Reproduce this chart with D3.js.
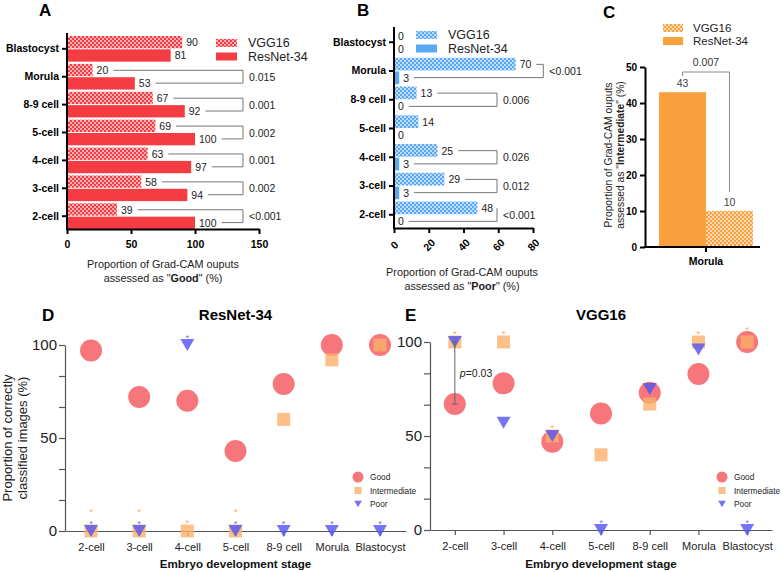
<!DOCTYPE html>
<html>
<head>
<meta charset="utf-8">
<script src="https://cdn.jsdelivr.net/npm/d3@7"></script>
<style>
body { margin: 0; background: #fff; }
svg { font-family: "Liberation Sans", Arial, Helvetica, sans-serif; }
</style>
</head>
<body>
<svg id="chart" width="782" height="572"></svg>
<script>
// ---- data ----
var barStages = ["Blastocyst", "Morula", "8-9 cell", "5-cell", "4-cell", "3-cell", "2-cell"];
var goodVGG = [90, 20, 67, 69, 63, 58, 39];
var goodRes = [81, 53, 92, 100, 97, 94, 100];
var goodP = ["", "0.015", "0.001", "0.002", "0.001", "0.002", "<0.001"];
var poorVGG = [0, 70, 13, 14, 25, 29, 48];
var poorRes = [0, 3, 0, 0, 3, 3, 0];
var poorP = ["", "<0.001", "0.006", "", "0.026", "0.012", "<0.001"];
var interStage = ["Morula"];
var interRes = [43];
var interVGG = [10];
var interP = "0.007";

var stages = ["2-cell", "3-cell", "4-cell", "5-cell", "8-9 cell", "Morula", "Blastocyst"];
var resGood = [97, 72, 70, 43, 79, 100, 100];
var resInter = [0, 0, 0, 0, 60, 92, 100];
var resPoor = [0, 0, 100, 0, 0, 0, 0];
var resInterStar = [1, 1, 1, 1, 0, 0, 0];
var resPoorStar = [1, 1, 1, 1, 1, 1, 1];
var vggGood = [67, 78, 47, 62, 73, 83, 100];
var vggInter = [100, 100, 50, 40, 67, 100, 100];
var vggPoor = [100, 57, 50, 0, 75, 96, 0];
var vggInterStar = [1, 1, 1, 0, 0, 1, 1];
var vggPoorStar = [0, 0, 0, 1, 0, 0, 1];
var classes = ["Good", "Intermediate", "Poor"];
var models = ["VGG16", "ResNet-34"];

var RED = "#f43c42", BLUE = "#5aa8f4", ORANGE = "#f9a13e";

var svg = d3.select("#chart");
svg.append("rect").attr("width", 782).attr("height", 572).attr("fill", "#fff");
var defs = svg.append("defs");

function checker(id, color) {
    var p = defs.append("pattern")
        .attr("id", id)
        .attr("patternUnits", "userSpaceOnUse")
        .attr("width", 4)
        .attr("height", 4);
    p.append("rect").attr("width", 4).attr("height", 4).attr("fill", color);
    p.append("rect").attr("width", 2).attr("height", 2).attr("fill", "#fff").attr("opacity", 0.6);
    p.append("rect").attr("x", 2).attr("y", 2).attr("width", 2).attr("height", 2).attr("fill", "#fff").attr("opacity", 0.6);
}
checker("chkRed", RED);
checker("chkBlue", BLUE);
checker("chkOrange", ORANGE);

function panelLetter(t, x, y) {
    svg.append("text").attr("x", x).attr("y", y)
        .attr("font-size", 17).attr("font-weight", "bold").text(t);
}

// ---- horizontal bar panels (A, B) ----
function barPanel(c) {
    var g = svg.append("g");
    var x = d3.scaleLinear().domain([0, c.max]).range([c.left, c.right]);
    var y = d3.scaleBand().domain(barStages).range([c.top, c.bottom]).paddingInner(0.08);
    var h = y.bandwidth() / 2;

    var rows = barStages.map(function(s, i) {
        return { stage: s, vgg: c.vgg[i], res: c.res[i], p: c.p[i] };
    });

    var row = g.selectAll(".row").data(rows).enter().append("g");

    row.append("rect")
        .attr("x", x(0))
        .attr("y", function(d) { return y(d.stage); })
        .attr("width", function(d) { return x(d.vgg) - x(0); })
        .attr("height", h - 0.5)
        .attr("fill", "url(#" + c.pattern + ")");

    row.append("rect")
        .attr("x", x(0))
        .attr("y", function(d) { return y(d.stage) + h + 0.5; })
        .attr("width", function(d) { return x(d.res) - x(0); })
        .attr("height", h - 0.5)
        .attr("fill", c.color);

    row.each(function(d) {
        var r = d3.select(this);
        var yt = y(d.stage) + h / 2, yb = y(d.stage) + h * 1.5;
        var t1 = r.append("text").attr("x", x(d.vgg) + 4).attr("y", yt)
            .attr("dominant-baseline", "central").attr("font-size", 10.5).attr("fill", "#222")
            .text(d.vgg);
        var t2 = r.append("text").attr("x", x(d.res) + 4).attr("y", yb)
            .attr("dominant-baseline", "central").attr("font-size", 10.5).attr("fill", "#222")
            .text(d.res);
        if (!d.p) return;
        var e1 = x(d.vgg) + 4 + t1.node().getComputedTextLength();
        var e2 = x(d.res) + 4 + t2.node().getComputedTextLength();
        var bx = e1 > c.bracketX + 10 ? e1 + 12 : c.bracketX;
        r.append("path")
            .attr("d", "M" + Math.min(e1 + 5, bx) + "," + yt + "H" + bx + "V" + yb + "H" + (e2 + 5))
            .attr("fill", "none").attr("stroke", "#777").attr("stroke-width", 1);
        r.append("text").attr("x", bx + 6).attr("y", (yt + yb) / 2)
            .attr("dominant-baseline", "central").attr("font-size", 10.5).attr("fill", "#222")
            .text(d.p);
    });

    // y axis
    var ya = g.append("g").attr("transform", "translate(" + x(0) + ",0)")
        .call(d3.axisLeft(y).tickSize(5).tickSizeOuter(0).tickPadding(3));
    ya.select(".domain").remove();
    ya.selectAll("line").attr("stroke", "#000").attr("stroke-width", 2);
    ya.selectAll("text").attr("font-size", 10.5).attr("font-weight", "bold").attr("fill", "#000")
        .attr("font-family", "Liberation Sans, Arial, sans-serif");
    g.append("line").attr("x1", x(0)).attr("x2", x(0)).attr("y1", c.axisTop).attr("y2", c.bottom + 1)
        .attr("stroke", "#000").attr("stroke-width", 2);

    // x axis
    var xa = g.append("g").attr("transform", "translate(0," + c.bottom + ")")
        .call(d3.axisBottom(x).tickValues(c.ticks).tickSize(5).tickSizeOuter(0));
    xa.select(".domain").attr("stroke", "#000").attr("stroke-width", 2);
    xa.selectAll("line").attr("stroke", "#000").attr("stroke-width", 2);
    xa.selectAll("text").attr("font-size", 10.5).attr("font-weight", "bold").attr("fill", "#000")
        .attr("font-family", "Liberation Sans, Arial, sans-serif");
    if (c.rotate) {
        xa.selectAll("text")
            .attr("y", 0).attr("dy", "0.35em")
            .attr("text-anchor", "middle")
            .attr("transform", "translate(0,17) rotate(-45)");
    } else {
        xa.selectAll("text").attr("y", 12);
    }

    // axis title
    var tt = g.append("text").attr("x", c.titleX).attr("y", c.titleY)
        .attr("text-anchor", "middle").attr("font-size", 10.8).attr("fill", "#222");
    tt.append("tspan").attr("x", c.titleX).text("Proportion of Grad-CAM ouputs");
    var l2 = tt.append("tspan").attr("x", c.titleX).attr("dy", 14);
    l2.append("tspan").text("assessed as \"");
    l2.append("tspan").attr("font-weight", "bold").text(c.word);
    l2.append("tspan").text("\" (%)");

    // legend
    models.forEach(function(m, i) {
        g.append("rect").attr("x", c.legX).attr("y", c.legY + i * 13.5 - 4)
            .attr("width", 21).attr("height", 8)
            .attr("fill", i === 0 ? "url(#" + c.pattern + ")" : c.color);
        g.append("text").attr("x", c.legX + 32).attr("y", c.legY + i * 13.5)
            .attr("dominant-baseline", "central").attr("font-size", 12.5).attr("fill", "#222").text(m);
    });
}

barPanel({
    vgg: goodVGG, res: goodRes, p: goodP, max: 150, ticks: [0, 50, 100, 150],
    left: 67, right: 259, top: 36, bottom: 229, axisTop: 33,
    color: RED, pattern: "chkRed", bracketX: 243,
    titleX: 163, titleY: 268, word: "Good", legX: 216, legY: 43, rotate: false
});
barPanel({
    vgg: poorVGG, res: poorRes, p: poorP, max: 80, ticks: [0, 20, 40, 60, 80],
    left: 394, right: 533, top: 29, bottom: 228, axisTop: 27,
    color: BLUE, pattern: "chkBlue", bracketX: 497,
    titleX: 462, titleY: 276, word: "Poor", legX: 416, legY: 35, rotate: true
});

// ---- panel C ----
(function() {
    var g = svg.append("g");
    var x0 = d3.scaleBand().domain(interStage).range([645, 767]).padding(0.13);
    var x1 = d3.scaleBand().domain(["ResNet-34", "VGG16"]).range([0, x0.bandwidth()]);
    var y = d3.scaleLinear().domain([0, 50]).range([247, 67]);
    var bars = [
        { m: "ResNet-34", v: interRes[0], fill: ORANGE },
        { m: "VGG16", v: interVGG[0], fill: "url(#chkOrange)" }
    ];
    g.selectAll(".cbar").data(bars).enter().append("rect")
        .attr("x", function(d) { return x0("Morula") + x1(d.m); })
        .attr("y", function(d) { return y(d.v); })
        .attr("width", x1.bandwidth())
        .attr("height", function(d) { return y(0) - y(d.v); })
        .attr("fill", function(d) { return d.fill; });
    g.selectAll(".clab").data(bars).enter().append("text")
        .attr("x", function(d) { return x0("Morula") + x1(d.m) + x1.bandwidth() / 2; })
        .attr("y", function(d) { return y(d.v) - 5; })
        .attr("text-anchor", "middle").attr("font-size", 10.5).attr("fill", "#444")
        .text(function(d) { return d.v; });
    var cx1 = x0("Morula") + x1("ResNet-34") + x1.bandwidth() / 2;
    var cx2 = x0("Morula") + x1("VGG16") + x1.bandwidth() / 2;
    g.append("path")
        .attr("d", "M" + cx1 + "," + (y(interRes[0]) - 16) + "V" + (y(50) + 5) + "H" + cx2 + "V" + (y(interVGG[0]) - 19))
        .attr("fill", "none").attr("stroke", "#888").attr("stroke-width", 1);
    g.append("text").attr("x", (cx1 + cx2) / 2).attr("y", y(50) - 1)
        .attr("text-anchor", "middle").attr("font-size", 10.5).attr("fill", "#333").text(interP);

    var ya = g.append("g").attr("transform", "translate(645,0)")
        .call(d3.axisLeft(y).ticks(5).tickSize(5).tickSizeOuter(0));
    ya.select(".domain").attr("stroke", "#000").attr("stroke-width", 2);
    ya.selectAll("line").attr("stroke", "#000").attr("stroke-width", 2);
    ya.selectAll("text").attr("font-size", 10).attr("font-weight", "bold").attr("fill", "#000")
        .attr("font-family", "Liberation Sans, Arial, sans-serif");
    var xa = g.append("g").attr("transform", "translate(0,247)")
        .call(d3.axisBottom(x0).tickSize(5).tickSizeOuter(0));
    xa.select(".domain").attr("stroke", "#000").attr("stroke-width", 2).attr("d", "M644,0H760");
    xa.selectAll("line").attr("stroke", "#000").attr("stroke-width", 2);
    xa.selectAll("text").attr("font-size", 10.5).attr("font-weight", "bold").attr("fill", "#000")
        .attr("y", 11).attr("font-family", "Liberation Sans, Arial, sans-serif");

    var tt = g.append("text").attr("transform", "translate(612,155) rotate(-90)")
        .attr("text-anchor", "middle").attr("font-size", 10.3).attr("fill", "#222");
    tt.append("tspan").attr("x", 0).text("Proportion of Grad-CAM ouputs");
    var l2 = tt.append("tspan").attr("x", 0).attr("dy", 11.5);
    l2.append("tspan").text("assessed as \"");
    l2.append("tspan").attr("font-weight", "bold").text("Intermediate");
    l2.append("tspan").text("\" (%)");

    models.forEach(function(m, i) {
        g.append("rect").attr("x", 663).attr("y", 28 + i * 13 - 4)
            .attr("width", 20).attr("height", 8)
            .attr("fill", i === 0 ? "url(#chkOrange)" : ORANGE);
        g.append("text").attr("x", 693).attr("y", 28 + i * 13)
            .attr("dominant-baseline", "central").attr("font-size", 11.5).attr("fill", "#222").text(m);
    });
})();

// ---- scatter panels (D, E) ----
var MK = {
    Good: { fill: "#f4545a", op: 0.8 },
    Intermediate: { fill: "#fbb06a", op: 0.8 },
    Poor: { fill: "#5656f2", op: 0.82 }
};

function marker(g, type, cx, cy, s) {
    var k = s || 1;
    if (type === "Good") {
        g.append("circle").attr("cx", cx).attr("cy", cy).attr("r", 11 * k)
            .attr("fill", MK.Good.fill).attr("fill-opacity", MK.Good.op);
    } else if (type === "Intermediate") {
        g.append("rect").attr("x", cx - 6.5 * k).attr("y", cy - 6.5 * k)
            .attr("width", 13 * k).attr("height", 13 * k)
            .attr("fill", MK.Intermediate.fill).attr("fill-opacity", MK.Intermediate.op);
    } else {
        g.append("path")
            .attr("d", "M" + (cx - 7 * k) + "," + (cy - 6 * k) + "L" + (cx + 7 * k) + "," + (cy - 6 * k) + "L" + cx + "," + (cy + 6 * k) + "Z")
            .attr("fill", MK.Poor.fill).attr("fill-opacity", MK.Poor.op);
    }
}

// asterisk, vertically centred on cy
function star(g, cx, cy, color) {
    g.append("text").attr("x", cx).attr("y", cy + 5.5).attr("text-anchor", "middle")
        .attr("font-size", 9.5).attr("fill", color).text("*");
}

function scatterPanel(c) {
    var g = svg.append("g");
    var x = d3.scalePoint().domain(stages).range([c.left, c.right]).padding(c.pad);
    var y = d3.scaleLinear().domain([0, 100]).range([c.bottom, c.top]);

    var ya = g.append("g").attr("transform", "translate(" + c.left + ",0)")
        .call(d3.axisLeft(y).tickValues(d3.range(7).map(function(i) { return i * 50 / 3; }))
            .tickFormat(function(d, i) { return i % 3 === 0 ? Math.round(d) : ""; })
            .tickSize(6).tickSizeOuter(0).tickPadding(2));
    ya.select(".domain").attr("stroke", "#555").attr("stroke-width", 1.2);
    ya.selectAll("line").attr("stroke", "#555").attr("stroke-width", 1.2);
    ya.selectAll("text").attr("font-size", 15).attr("fill", "#222")
        .attr("font-family", "Liberation Sans, Arial, sans-serif");

    var xa = g.append("g").attr("transform", "translate(0," + c.bottom + ")")
        .call(d3.axisBottom(x).tickSize(5).tickSizeOuter(0).tickPadding(7));
    xa.select(".domain").attr("stroke", "#555").attr("stroke-width", 1.2);
    xa.selectAll("line").attr("stroke", "#555").attr("stroke-width", 1.2);
    xa.selectAll("text").attr("font-size", 11).attr("fill", "#222")
        .attr("font-family", "Liberation Sans, Arial, sans-serif");

    var m = g.append("g");
    stages.forEach(function(s, i) { marker(m, "Good", x(s), y(c.good[i])); });
    stages.forEach(function(s, i) { marker(m, "Intermediate", x(s), y(c.inter[i])); });
    stages.forEach(function(s, i) { marker(m, "Poor", x(s), y(c.poor[i])); });

    stages.forEach(function(s, i) {
        if (c.poorStar[i]) star(m, x(s), y(c.poor[i]) - 10, "#7b78f5");
        if (c.interStar[i]) {
            var off = (c.poorStar[i] && c.poor[i] === c.inter[i]) ? 21.5 : 11;
            if (c.good[i] === c.inter[i]) off = 15;
            star(m, x(s), y(c.inter[i]) - off, "#f7b05c");
        }
    });

    if (c.pval) {
        var px = x(stages[0]);
        m.append("path")
            .attr("d", "M" + (px - 3) + "," + y(c.good[0]) + "H" + (px + 3) + "M" + px + "," + y(c.good[0]) + "V" + y(c.poor[0]) + "M" + (px - 3) + "," + y(c.poor[0]) + "H" + (px + 3))
            .attr("stroke", "#666").attr("stroke-width", 1).attr("fill", "none");
        var pt = m.append("text").attr("x", px + 5).attr("y", 377).attr("font-size", 10.5).attr("fill", "#222");
        pt.append("tspan").attr("font-style", "italic").text("p");
        pt.append("tspan").text(c.pval);
    }

    // legend
    classes.forEach(function(k, i) {
        var ly = 477 + i * 13.5;
        marker(g, k, c.legX, ly, k === "Good" ? 0.5 : 0.55);
        g.append("text").attr("x", c.legX + 12).attr("y", ly)
            .attr("dominant-baseline", "central").attr("font-size", 8.3).attr("fill", "#222").text(k);
    });

    g.append("text").attr("x", (c.left + c.right) / 2).attr("y", 320)
        .attr("text-anchor", "middle").attr("font-size", 15).attr("font-weight", "bold").text(c.title);
    g.append("text").attr("x", (c.left + c.right) / 2).attr("y", 568)
        .attr("text-anchor", "middle").attr("font-size", 11.6).attr("font-weight", "bold").attr("fill", "#111")
        .text("Embryo development stage");
}

scatterPanel({
    good: resGood, inter: resInter, poor: resPoor, interStar: resInterStar, poorStar: resPoorStar,
    left: 65, right: 406, pad: 0.54, top: 345, bottom: 531, legX: 358, title: "ResNet-34"
});
scatterPanel({
    good: vggGood, inter: vggInter, poor: vggPoor, interStar: vggInterStar, poorStar: vggPoorStar,
    left: 430, right: 772, pad: 0.51, top: 342, bottom: 530, legX: 722, title: "VGG16", pval: "=0.03"
});

// y title for D
var yt = svg.append("text").attr("transform", "translate(12,438) rotate(-90)")
    .attr("text-anchor", "middle").attr("font-size", 13).attr("fill", "#222");
yt.append("tspan").attr("x", 0).text("Proportion of correctly");
yt.append("tspan").attr("x", 0).attr("dy", 14.5).text("classified images (%)");

panelLetter("A", 39, 16);
panelLetter("B", 357, 16);
panelLetter("C", 603, 18);
panelLetter("D", 42, 321);
panelLetter("E", 405, 321);
</script>
</body>
</html>
